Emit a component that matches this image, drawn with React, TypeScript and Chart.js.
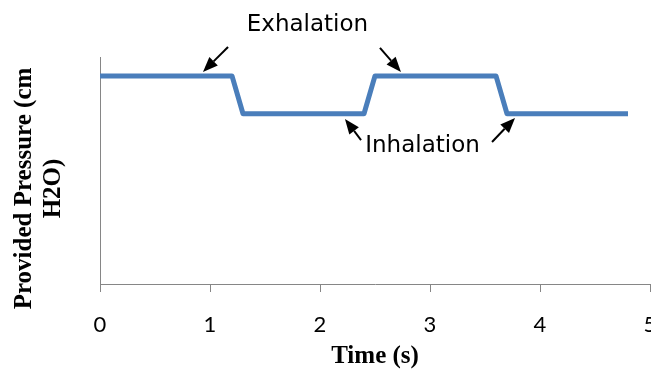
import React, { useEffect, useRef } from 'react';
import { Chart, registerables } from 'chart.js';

Chart.register(...registerables);

// ---- data ----
const timeS = [0, 1.2, 1.3, 2.4, 2.5, 3.6, 3.7, 4.8];
const pressure = [11, 11, 9, 9, 11, 11, 9, 9];
const xMin = 0;
const xMax = 5;
const yMin = 0;
const yMax = 12;
const xTitle = 'Time (s)';
const yTitleLines = ['Provided Pressure (cm', 'H2O)'];

// annotation texts (baseline positions in data units)
const labelTexts = ['Exhalation', 'Inhalation'];
const labelX = [1.886, 2.932];
const labelY = [13.37, 6.98];
// arrows (tail -> tip) in data units
const arrowTailX = [1.164, 2.545, 2.373, 3.564];
const arrowTailY = [12.53, 12.48, 7.61, 7.51];
const arrowTipX = [0.936, 2.736, 2.227, 3.773];
const arrowTipY = [11.21, 11.21, 8.72, 8.78];

const AXIS_COLOR = '#868686';
const LINE_COLOR = '#4A7EBB';

function drawArrow(ctx: CanvasRenderingContext2D, x1: number, y1: number, x2: number, y2: number) {
  const ang = Math.atan2(y2 - y1, x2 - x1);
  const head = 15;
  const hw = 6;
  const bx = x2 - head * Math.cos(ang);
  const by = y2 - head * Math.sin(ang);
  ctx.lineWidth = 2;
  ctx.strokeStyle = '#000';
  ctx.fillStyle = '#000';
  ctx.beginPath();
  ctx.moveTo(x1, y1);
  ctx.lineTo(bx, by);
  ctx.stroke();
  ctx.beginPath();
  ctx.moveTo(x2, y2);
  ctx.lineTo(bx + hw * Math.sin(ang), by - hw * Math.cos(ang));
  ctx.lineTo(bx - hw * Math.sin(ang), by + hw * Math.cos(ang));
  ctx.closePath();
  ctx.fill();
}

const annotationPlugin = {
  id: 'annotations',
  afterDatasetsDraw(chart: any) {
    const { ctx, scales, chartArea } = chart;
    const x = scales.x;
    const y = scales.y;
    ctx.save();
    // y-axis title (two rotated lines)
    ctx.fillStyle = '#000';
    ctx.font = 'bold 25px "Liberation Serif", "Times New Roman", serif';
    ctx.textAlign = 'center';
    ctx.textBaseline = 'middle';
    const cy = (chartArea.top + chartArea.bottom) / 2 + 18;
    const lineX = [chartArea.left - 75, chartArea.left - 46];
    yTitleLines.forEach((t, i) => {
      ctx.save();
      ctx.translate(lineX[i], cy);
      ctx.rotate(-Math.PI / 2);
      ctx.fillText(t, 0, 0);
      ctx.restore();
    });
    // annotation labels
    ctx.font = '23px "DejaVu Sans", sans-serif';
    ctx.textBaseline = 'alphabetic';
    labelTexts.forEach((t, i) => {
      ctx.fillText(t, x.getPixelForValue(labelX[i]), y.getPixelForValue(labelY[i]));
    });
    // arrows
    arrowTailX.forEach((_, i) => {
      drawArrow(
        ctx,
        x.getPixelForValue(arrowTailX[i]),
        y.getPixelForValue(arrowTailY[i]),
        x.getPixelForValue(arrowTipX[i]),
        y.getPixelForValue(arrowTipY[i])
      );
    });
    ctx.restore();
  },
};

export default function App() {
  const ref = useRef<HTMLCanvasElement>(null);
  useEffect(() => {
    document.body.style.margin = '0';
    if (!ref.current) return;
    const chart = new Chart(ref.current, {
      type: 'line',
      data: {
        datasets: [
          {
            data: timeS.map((t, i) => ({ x: t, y: pressure[i] })),
            borderColor: LINE_COLOR,
            borderWidth: 5,
            pointRadius: 0,
            tension: 0,
            fill: false,
            borderJoinStyle: 'round',
            borderCapStyle: 'butt',
          },
        ],
      },
      options: {
        animation: false,
        responsive: true,
        maintainAspectRatio: false,
        layout: { padding: { top: 57, right: 1, left: 0, bottom: 0 } },
        plugins: { legend: { display: false }, tooltip: { enabled: false } },
        scales: {
          x: {
            type: 'linear',
            min: xMin,
            max: xMax,
            ticks: {
              stepSize: 1,
              color: '#000',
              padding: 20,
              font: { family: 'Lato, "Open Sans", sans-serif', size: 22, lineHeight: 1.2 },
              maxRotation: 0,
            },
            grid: { display: true, drawOnChartArea: false, drawTicks: true, tickLength: 8, color: AXIS_COLOR },
            border: { display: true, color: AXIS_COLOR, width: 1 },
            title: {
              display: true,
              text: xTitle,
              color: '#000',
              padding: 0,
              font: { family: '"Liberation Serif", "Times New Roman", serif', size: 25, weight: 'bold', lineHeight: 1 },
            },
            afterFit(scale: any) {
              scale.height = 85;
              scale.paddingLeft = 0;
              scale.paddingRight = 0;
            },
          },
          y: {
            type: 'linear',
            min: yMin,
            max: yMax,
            ticks: { display: false },
            grid: { display: false },
            border: { display: true, color: AXIS_COLOR, width: 1 },
            afterFit(scale: any) {
              scale.width = 100;
            },
          },
        },
      },
      plugins: [annotationPlugin],
    });
    return () => chart.destroy();
  }, []);
  return (
    <div style={{ position: 'absolute', left: 0, top: 0, width: 651, height: 369, background: '#fff' }}>
      <canvas ref={ref} />
    </div>
  );
}
